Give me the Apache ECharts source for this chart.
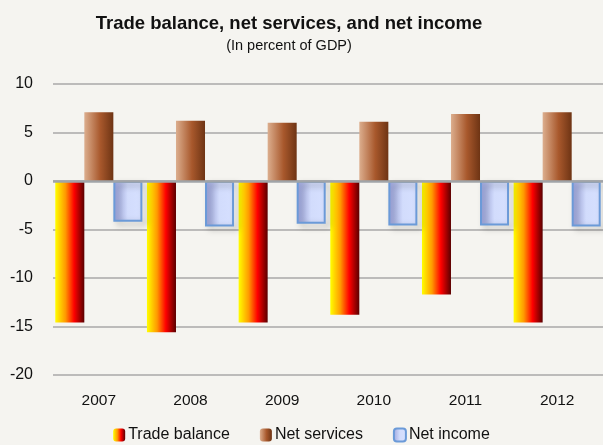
<!DOCTYPE html>
<html>
<head>
<meta charset="utf-8">
<script src="https://cdn.jsdelivr.net/npm/echarts@6/dist/echarts.min.js"></script>
<style>
html,body{margin:0;padding:0;background:#f5f4f0;}
#c{width:603px;height:445px;}
</style>
</head>
<body>
<div id="c"></div>
<script>
const categories = ['2007','2008','2009','2010','2011','2012'];
const tradeBalance = [-14.6, -15.6, -14.6, -13.8, -11.7, -14.6];
const netServices = [7.1, 6.2, 6.0, 6.1, 6.9, 7.1];
const netIncome = [-4.2, -4.7, -4.4, -4.6, -4.6, -4.7];
const yTicks = { min: -20, max: 10, interval: 5 };

const chart = echarts.init(document.getElementById('c'));
const G = echarts.graphic.LinearGradient;
const shadow = { shadowBlur: 6, shadowOffsetX: 4, shadowOffsetY: 3, shadowColor: 'rgba(0,0,0,0.35)' };
const font = 'Liberation Sans';

chart.setOption({
  backgroundColor: '#f5f4f0',
  textStyle: { fontFamily: font },
  title: {
    text: 'Trade balance, net services, and net income',
    subtext: '(In percent of GDP)',
    left: 284, textAlign: 'center', top: 9, itemGap: 5,
    textStyle: { fontFamily: font, fontWeight: 'bold', fontSize: 18.5, color: '#111' },
    subtextStyle: { fontFamily: font, fontSize: 14.5, color: '#111' }
  },
  legend: {
    bottom: -3, left: 'center', itemWidth: 12, itemHeight: 13, itemGap: 30,
    textStyle: { fontFamily: font, fontSize: 16, color: '#111', padding: [0,0,0,-2] },
    data: ['Trade balance', 'Net services', 'Net income']
  },
  grid: { left: 53, right: 0, top: 84, bottom: 70, containLabel: false },
  xAxis: {
    type: 'category', data: categories, position: 'bottom',
    axisLine: { show: false }, axisTick: { show: false },
    axisLabel: { fontSize: 15.5, color: '#111', margin: 18, fontFamily: font }
  },
  yAxis: {
    type: 'value', min: yTicks.min, max: yTicks.max, interval: yTicks.interval,
    axisLine: { show: false }, axisTick: { show: false },
    axisLabel: { fontSize: 16, color: '#111', margin: 20, fontFamily: font },
    splitLine: { lineStyle: { color: '#a8a8a8', width: 1.5 } }
  },
  series: [
    {
      name: 'Trade balance', type: 'bar', data: tradeBalance,
      barGap: '0%', barCategoryGap: '5%',
      itemStyle: Object.assign({
        color: new G(0,0,1,0,[
          {offset:0,color:'#ffff00'},{offset:0.35,color:'#ff9900'},
          {offset:0.65,color:'#ff0000'},{offset:1,color:'#5a0000'}])
      }, shadow),
      markLine: {
        silent: true, symbol: 'none', label: { show: false },
        lineStyle: { color: '#a0a4a8', width: 2.5, type: 'solid' },
        data: [{ yAxis: 0 }]
      }
    },
    {
      name: 'Net services', type: 'bar', data: netServices,
      itemStyle: Object.assign({
        color: new G(0,0,1,0,[
          {offset:0,color:'#dcae8e'},{offset:0.55,color:'#a8582c'},
          {offset:1,color:'#6e3414'}])
      }, shadow)
    },
    {
      name: 'Net income', type: 'bar', data: netIncome,
      itemStyle: Object.assign({
        color: new G(0,0,1,0,[
          {offset:0,color:'#9aa2dc'},{offset:0.5,color:'#d2dcfc'},
          {offset:1,color:'#d6e0ff'}]),
        borderColor: '#6b9ad8', borderWidth: 2
      }, shadow)
    }
  ]
});
</script>
</body>
</html>
